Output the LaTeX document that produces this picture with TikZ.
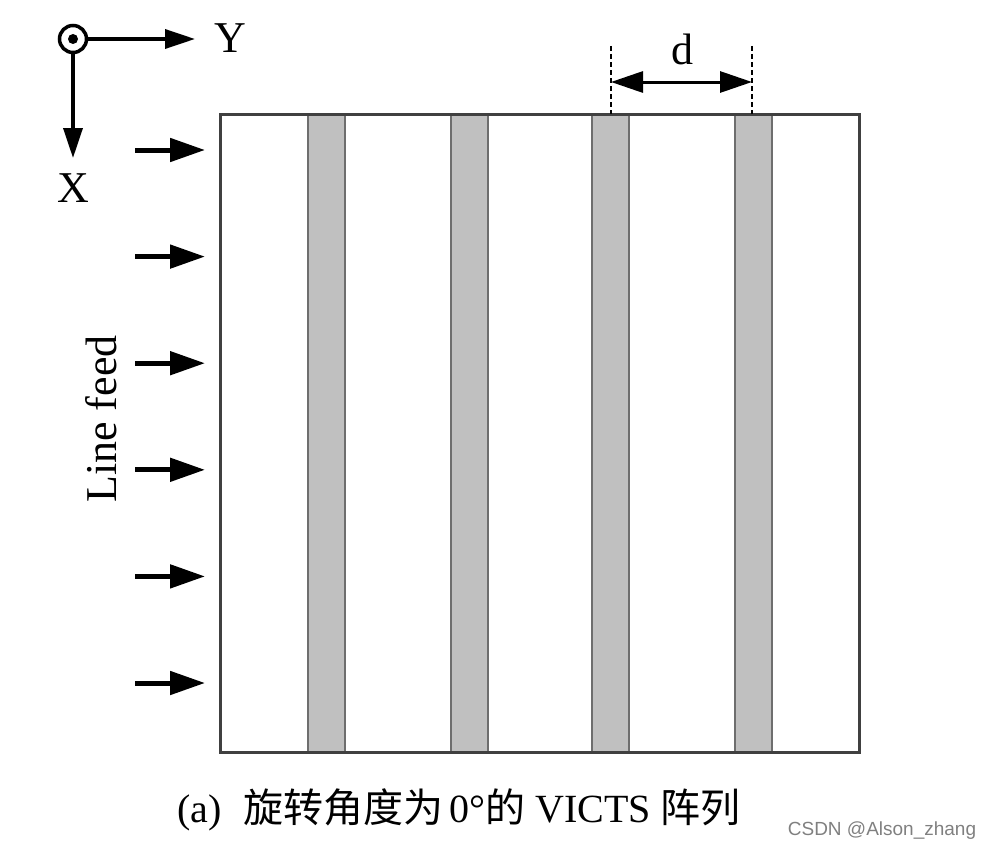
\documentclass[tikz,border=0pt]{standalone}
\usepackage{fontspec}
\setmainfont{Liberation Serif}
\setsansfont{Liberation Sans}
\newfontfamily\cjkfont{Noto Sans CJK SC}
\usetikzlibrary{arrows.meta}
\definecolor{stripfill}{HTML}{C0C0C0}
\definecolor{stripedge}{HTML}{6E6E6E}
\definecolor{frameedge}{HTML}{404040}
\newcommand\figfontL{\fontsize{44}{50}\selectfont}
\newcommand\figfontC{\fontsize{40}{46}\selectfont}
\newcommand\figfontK{\fontsize{40}{46}\selectfont}
\tikzset{
  feedarrow/.style={line width=5pt,-{Triangle[length=35pt,width=23pt]}},
  axisarrow/.style={line width=3.5pt,-{Triangle[length=30pt,width=19pt]}},
  striprect/.style={fill=stripfill,draw=stripedge,line width=2pt},
  framerect/.style={draw=frameedge,line width=3pt},
  dimline/.style={line width=1.8pt,dash pattern=on 5pt off 3pt},
  dimarrow/.style={line width=3pt,{Triangle[length=32pt,width=21pt]}-{Triangle[length=32pt,width=21pt]}},
  lbl/.style={inner sep=0pt,font=\figfontL}
}
\begin{document}
\begin{tikzpicture}[x=1pt,y=-1pt]
\useasboundingbox (0,0) rectangle (992,851);
% strips
\foreach \a/\b in {308/345,451/488,592/629,735/772}
  \draw[striprect] (\a,114) rectangle (\b,752);
% frame
\draw[framerect] (220,114) rectangle (859,752);
% feed arrows
\foreach \y [count=\i] in {150,256.6,363.2,469.8,576.4,683}{
  \coordinate (fs\i) at (135,\y);
  \coordinate (fe\i) at (205,\y);
  \draw[feedarrow] (fs\i) -- (fe\i);
}
\node[lbl,rotate=90] (feed) at (101,419) {Line feed};
% axes
\node[circle,draw,line width=3.5pt,minimum size=27pt,inner sep=0pt] (orig) at (73,39) {};
\fill (73,39) circle (5pt);
\coordinate (ytip) at (195,39);
\coordinate (xtip) at (73,158);
\draw[axisarrow] (orig.east) -- (ytip);
\draw[axisarrow] (orig.south) -- (xtip);
\node[lbl] (ylab) at (230,38) {Y};
\node[lbl] (xlab) at (73,188) {X};
% dimension d
\coordinate (d1t) at (611,46);
\coordinate (d1b) at (611,114);
\coordinate (d2t) at (752,46);
\coordinate (d2b) at (752,114);
\draw[dimline] (d1t) -- (d1b);
\draw[dimline] (d2t) -- (d2b);
\coordinate (da) at (611,82);
\coordinate (db) at (752,82);
\draw[dimarrow] (da) -- (db);
\node[lbl] (dlab) at (682,49) {d};
% caption
\node[inner sep=0pt,font=\figfontC] (cap) at (459,810)
  {(a)\hspace{22pt}{\cjkfont\figfontK 旋转角度为}\hspace{6pt}0°{\cjkfont\figfontK 的}\ VICTS\ {\cjkfont\figfontK 阵列}};
\node[inner sep=0pt,font=\sffamily\fontsize{19}{22}\selectfont,text=gray] (wm) at (882,831) {CSDN @Alson\_zhang};
\end{tikzpicture}
\end{document}
